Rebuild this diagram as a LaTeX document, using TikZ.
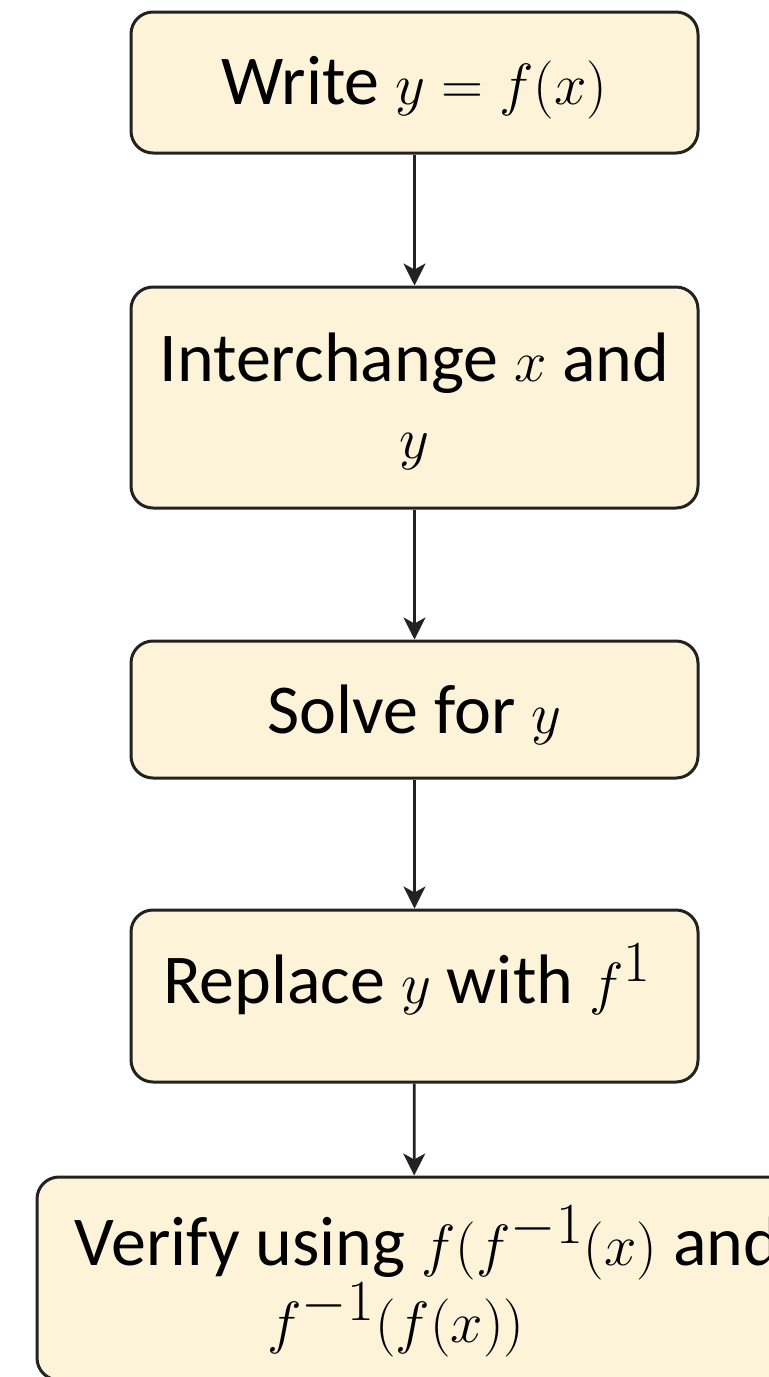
\documentclass[tikz,border=0pt]{standalone}
\usepackage{graphicx}
\usepackage{fontspec}
\setmainfont{Carlito}
\newcommand\mth[1]{\scalebox{1.17}{$#1$}}
\usetikzlibrary{arrows.meta}
\definecolor{boxfill}{RGB}{253,243,216}
\definecolor{boxline}{RGB}{34,34,34}
\tikzset{
  stepbox/.style={draw=boxline, fill=boxfill, line width=1.5pt, rounded corners=11pt,
    inner sep=0pt, font=\fontsize{35}{38.5}\selectfont},
  flow/.style={draw=boxline, line width=1.4pt, -{Stealth[length=11pt,width=11pt,inset=3pt]}}
}
\begin{document}
\begin{tikzpicture}[x=0.5pt,y=-0.5pt]
\fill[white] (0,0) rectangle (769,1377);
\useasboundingbox (0,0) rectangle (769,1377);
\begin{scope}
\clip (0,0) rectangle (769,1377);
\node[stepbox, minimum width=283.5pt, minimum height=70.5pt, text height=24pt, text depth=2.5pt] (b1) at (414.5,82.5) {Write \mth{y=f(x)}};
\node[stepbox, minimum width=283.5pt, minimum height=110.5pt, text height=10pt, text depth=26.5pt] (b2) at (414.5,397.5)
  {\parbox[t]{270pt}{\centering\mbox{Interchange \mth{x} and}\\ \mth{y}}};
\node[stepbox, minimum width=283.5pt, minimum height=68.5pt, text height=25pt, text depth=1.5pt] (b3) at (414.5,709.5) {Solve for \mth{y}};
\node[stepbox, minimum width=283.5pt, minimum height=86pt, text height=10pt, text depth=3pt] (b4) at (414.5,996)
  {\makebox[251.5pt][l]{Replace \mth{y} with \mth{f^{1}}}};
\node[stepbox, minimum width=377pt, minimum height=101.5pt, text height=10pt, text depth=23.5pt] (b5) at (414,1278.5)
  {\parbox[t]{339pt}{\centering\makebox[339pt][l]{Verify using \mth{f(f^{-1}(x)} and}\\ \hspace*{-18pt}\mth{f^{-1}(f(x))}}};
\draw[flow] (b1) -- (b2);
\draw[flow] (b2) -- (b3);
\draw[flow] (b3) -- (b4);
\draw[flow] (b4) -- (b5);
\end{scope}
\end{tikzpicture}
\end{document}
